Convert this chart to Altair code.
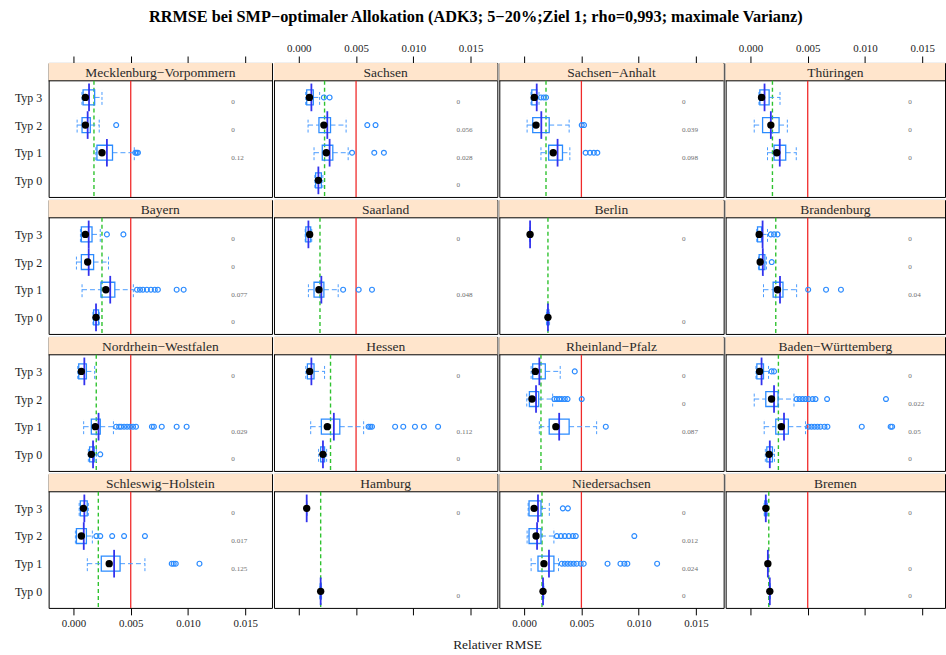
import altair as alt
import pandas as pd

TITLE = "RRMSE bei SMP\u2212optimaler Allokation (ADK3; 5\u221220%;Ziel 1; rho=0,993; maximale Varianz)"
X_TITLE = "Relativer RMSE"

STATES = [
    "Mecklenburg\u2212Vorpommern", "Sachsen", "Sachsen\u2212Anhalt", "Thüringen",
    "Bayern", "Saarland", "Berlin", "Brandenburg",
    "Nordrhein\u2212Westfalen", "Hessen", "Rheinland\u2212Pfalz", "Baden\u2212Württemberg",
    "Schleswig\u2212Holstein", "Hamburg", "Niedersachsen", "Bremen",
]
TYPES = ["Typ 0", "Typ 1", "Typ 2", "Typ 3"]
TICKS = [0.0, 0.005, 0.010, 0.015]

# per state: values for [Typ 0, Typ 1, Typ 2, Typ 3]; None = no data
WHISKER_LO = [
    [None, 0.00195, 0.00032, 0.00074], [0.00140, 0.00133, 0.00081, 0.00060],
    [None, 0.00147, 0.00026, 0.00060], [None, 0.00149, 0.00033, 0.00074],
    [0.00170, 0.00075, 0.00026, 0.00061], [None, 0.00084, None, 0.00056],
    [0.00195, None, None, 0.00052], [None, 0.00114, 0.00070, 0.00055],
    [0.00130, 0.00089, None, 0.00037], [0.00173, 0.00104, None, 0.00061],
    [None, 0.00133, 0.00023, 0.00061], [0.00130, 0.00120, 0.00033, 0.00048],
    [None, 0.00121, 0.00017, 0.00050], [0.00185, None, None, 0.00069],
    [0.00160, 0.00061, 0.00026, 0.00035], [0.00165, 0.00152, None, 0.00120],
]
Q1 = [
    [None, 0.00205, 0.00075, 0.00084], [0.00147, 0.00205, 0.00176, 0.00069],
    [None, 0.00214, 0.00075, 0.00067], [None, 0.00206, 0.00106, 0.00082],
    [0.00176, 0.00240, 0.00069, 0.00069], [None, 0.00133, None, 0.00061],
    [0.00200, None, None, 0.00052], [None, 0.00198, 0.00076, 0.00062],
    [0.00141, 0.00156, None, 0.00046], [0.00191, 0.00197, None, 0.00075],
    [None, 0.00219, 0.00046, 0.00075], [0.00143, 0.00221, 0.00134, 0.00056],
    [None, 0.00243, 0.00026, 0.00060], [0.00187, None, None, 0.00069],
    [0.00162, 0.00121, 0.00043, 0.00043], [0.00167, 0.00152, None, 0.00125],
]
MEDIAN = [
    [None, 0.00249, 0.00104, 0.00104], [0.00171, 0.00240, 0.00219, 0.00093],
    [None, 0.00254, 0.00104, 0.00089], [None, 0.00230, 0.00178, 0.00097],
    [0.00197, 0.00283, 0.00124, 0.00104], [None, 0.00176, None, 0.00095],
    [0.00208, None, None, 0.00052], [None, 0.00236, 0.00085, 0.00076],
    [0.00156, 0.00191, None, 0.00069], [0.00211, 0.00249, None, 0.00095],
    [None, 0.00277, 0.00069, 0.00098], [0.00163, 0.00270, 0.00184, 0.00080],
    [None, 0.00312, 0.00069, 0.00087], [0.00191, None, None, 0.00069],
    [0.00165, 0.00173, 0.00104, 0.00087], [0.00169, 0.00152, None, 0.00134],
]
Q3 = [
    [None, 0.00341, 0.00147, 0.00185], [0.00197, 0.00297, 0.00277, 0.00127],
    [None, 0.00335, 0.00219, 0.00110], [None, 0.00308, 0.00250, 0.00163],
    [0.00219, 0.00361, 0.00176, 0.00162], [None, 0.00219, None, 0.00104],
    [0.00216, None, None, 0.00052], [None, 0.00284, 0.00126, 0.00097],
    [0.00182, 0.00234, None, 0.00113], [0.00225, 0.00358, None, 0.00133],
    [None, 0.00393, 0.00127, 0.00185], [0.00192, 0.00331, 0.00241, 0.00114],
    [None, 0.00407, 0.00113, 0.00120], [0.00196, None, None, 0.00069],
    [0.00169, 0.00260, 0.00147, 0.00147], [0.00171, 0.00152, None, 0.00143],
]
WHISKER_HI = [
    [None, 0.00531, 0.00225, 0.00249], [0.00210, 0.00431, 0.00413, 0.00182],
    [None, 0.00399, 0.00393, 0.00130], [None, 0.00400, 0.00322, 0.00258],
    [0.00225, 0.00523, 0.00306, 0.00234], [None, 0.00344, None, 0.00113],
    [0.00222, None, None, 0.00052], [None, 0.00403, 0.00140, 0.00149],
    [0.00200, 0.00349, None, 0.00185], [0.00243, 0.00566, None, 0.00225],
    [None, 0.00633, 0.00249, 0.00315], [0.00210, 0.00481, 0.00380, 0.00158],
    [None, 0.00624, 0.00165, 0.00130], [0.00199, None, None, 0.00069],
    [0.00172, 0.00300, 0.00260, 0.00220], [0.00173, 0.00152, None, 0.00148],
]
MEAN = [
    [None, 0.00292, 0.00124, 0.00136], [0.00171, 0.00269, 0.00249, 0.00110],
    [None, 0.00292, 0.00150, 0.00110], [None, 0.00256, 0.00178, 0.00123],
    [0.00197, 0.00321, 0.00133, 0.00133], [None, 0.00197, None, 0.00084],
    [0.00208, None, None, 0.00052], [None, 0.00258, 0.00108, 0.00106],
    [0.00171, 0.00219, None, 0.00095], [0.00211, 0.00306, None, 0.00110],
    [None, 0.00306, 0.00104, 0.00133], [0.00169, 0.00293, 0.00206, 0.00097],
    [None, 0.00355, 0.00090, 0.00095], [0.00191, None, None, 0.00069],
    [0.00165, 0.00217, 0.00113, 0.00121], [0.00169, 0.00152, None, 0.00134],
]
OUTLIERS = [
    [[], [0.00540, 0.00552, 0.00563], [0.00373], []],
    [[], [0.00465, 0.00659, 0.00743], [0.00598, 0.00670], [0.00219, 0.00269]],
    [[], [0.00537, 0.00575, 0.00609, 0.00639], [0.00503, 0.00523], [0.00147, 0.00171, 0.00191]],
    [[], [], [], []],
    [[], [0.00555, 0.00581, 0.00607, 0.00641, 0.00676, 0.00710, 0.00737, 0.00901, 0.00962], [],
     [0.00292, 0.00436]],
    [[], [0.00387, 0.00523, 0.00639], [], []],
    [[], [], [], []],
    [[], [0.00504, 0.00660, 0.00790], [0.00186], [0.00178, 0.00206, 0.00236]],
    [[0.00234], [0.00373, 0.00399, 0.00416, 0.00442, 0.00468, 0.00494, 0.00520, 0.00546,
                 0.00685, 0.00702, 0.00771, 0.00901, 0.00988], [], []],
    [[], [0.00609, 0.00624, 0.00639, 0.00841, 0.00912, 0.01014, 0.01092, 0.01216], [], []],
    [[], [0.00713], [0.00264, 0.00286, 0.00308, 0.00329, 0.00355, 0.00379, 0.00503], [0.00442]],
    [[], [0.00507, 0.00533, 0.00559, 0.00585, 0.00611, 0.00646, 0.00672, 0.00972, 0.01224, 0.01237],
     [0.00403, 0.00429, 0.00455, 0.00481, 0.00507, 0.00542, 0.00568, 0.00669, 0.01183],
     [0.00184, 0.00206]],
    [[], [0.00858, 0.00875, 0.00893, 0.01100], [0.00200, 0.00234, 0.00338, 0.00442, 0.00624], []],
    [[], [], [], []],
    [[], [0.00329, 0.00355, 0.00381, 0.00407, 0.00433, 0.00459, 0.00494, 0.00520,
          0.00728, 0.00841, 0.00875, 0.00901, 0.01161],
     [0.00286, 0.00321, 0.00355, 0.00390, 0.00425, 0.00451, 0.00962], [0.00338, 0.00382]],
    [[], [], [], []],
]
SHARE = [
    [None, "0.12", "0", "0"], ["0", "0.028", "0.056", "0"],
    [None, "0.098", "0.039", "0"], [None, "0", "0", "0"],
    ["0", "0.077", "0", "0"], [None, "0.048", None, "0"],
    ["0", None, None, "0"], [None, "0.04", "0", "0"],
    ["0", "0.029", None, "0"], ["0", "0.112", None, "0"],
    [None, "0.087", "0", "0"], ["0", "0.05", "0.022", "0"],
    [None, "0.125", "0.017", "0"], ["0", None, None, "0"],
    ["0", "0.024", "0.012", "0"], ["0", "0", None, "0"],
]
# dashed reference per state and the 0.005 target line (None = not drawn)
GREEN = [0.00179, 0.00225, 0.00191, 0.00192, 0.00249, 0.00185, 0.00208, 0.00221,
         0.00199, 0.00277, 0.00147, 0.00244, 0.00217, 0.00191, 0.00156, 0.00160]
TARGET = [0.005, 0.005, 0.005, 0.005, 0.005, 0.005, None, 0.005,
          0.005, 0.005, 0.005, 0.005, 0.005, None, 0.005, 0.005]

# layout
WIDTHS = [225, 225, 226, 221]
BODY_H = 117
STRIP_H = 18
PANEL_H = BODY_H + STRIP_H
PX_PER_UNIT = 11540.0
X_LO = -25.0 / PX_PER_UNIT
Y_LO, Y_HI_BODY = 0.4, 4.6
Y_TOP = Y_HI_BODY + STRIP_H * (Y_HI_BODY - Y_LO) / BODY_H

FONT = "Liberation Serif"
BLUE = "#2b8bff"
WHISK = "#4c9cff"
MEAN_C = "#3232ee"
GREEN_C = "#2fc22f"
RED_C = "#f02a2a"
STRIP_C = "#ffe5cc"

box_rows, out_rows, lab_rows = [], [], []
for s, name in enumerate(STATES):
    for t in range(4):
        if Q1[s][t] is not None:
            box_rows.append(dict(state=name, typ=TYPES[t], yi=t + 1,
                                 wlo=WHISKER_LO[s][t], q1=Q1[s][t], med=MEDIAN[s][t],
                                 q3=Q3[s][t], whi=WHISKER_HI[s][t], mean=MEAN[s][t]))
        for v in OUTLIERS[s][t]:
            out_rows.append(dict(state=name, yi=t + 1, v=v))
        if SHARE[s][t] is not None:
            lab_rows.append(dict(state=name, yi=t + 1, txt=SHARE[s][t]))
boxes = pd.DataFrame(box_rows)
outs = pd.DataFrame(out_rows)
labels = pd.DataFrame(lab_rows)


def panel(i):
    r, c = divmod(i, 4)
    w = WIDTHS[c]
    name = STATES[i]
    xscale = alt.Scale(domain=[X_LO, X_LO + w / PX_PER_UNIT], nice=False, zero=False)
    yscale = alt.Scale(domain=[Y_LO, Y_TOP], nice=False, zero=False)

    if r == 0 or r == 3:
        show = (c in (1, 3)) if r == 0 else (c in (0, 2))
        xaxis = alt.Axis(orient="top" if r == 0 else "bottom", values=TICKS, format=".3f",
                         title=None, grid=False, domain=False, tickSize=7, tickColor="#000",
                         labelPadding=3, labelFontSize=11, labelFont=FONT, labelColor="#222",
                         labelOpacity=1 if show else 0, labelFlush=False)
    else:
        xaxis = None
    if c == 0:
        yaxis = alt.Axis(values=[1, 2, 3, 4], labelExpr="'Typ ' + (datum.value - 1)",
                         title=None, ticks=False, domain=False, grid=False,
                         labelFont=FONT, labelFontSize=12, labelColor="#222",
                         labelPadding=7, minExtent=43, maxExtent=43)
    else:
        yaxis = None

    def X(f):
        return alt.X(f, type="quantitative", scale=xscale, axis=xaxis)

    def Y(f):
        return alt.Y(f, type="quantitative", scale=yscale, axis=yaxis)

    bx = boxes[boxes.state == name]
    ox = outs[outs.state == name] if len(outs) else outs
    lb = labels[labels.state == name]
    ref = pd.DataFrame([dict(state=name, green=GREEN[i], target=TARGET[i])])

    base_box = alt.Chart(bx).transform_calculate(
        ylo="datum.yi - 0.27", yhi="datum.yi + 0.27",
        mlo="datum.yi - 0.5", mhi="datum.yi + 0.5")

    layers = [
        alt.Chart(ref).mark_rect(fill=STRIP_C).encode(
            x=alt.value(0), x2=alt.value(w), y=alt.value(0), y2=alt.value(STRIP_H)),
        alt.Chart(ref).mark_text(font=FONT, fontSize=13.6, color="#2a2a2a", baseline="middle").encode(
            x=alt.value(w / 2), y=alt.value(STRIP_H / 2 + 1), text="state:N"),
        alt.Chart(ref).mark_rule(color="#000", strokeWidth=1).encode(
            x=alt.value(0), x2=alt.value(w), y=alt.value(STRIP_H)),
    ]
    if TARGET[i] is not None:
        layers.append(alt.Chart(ref).mark_rule(color=RED_C, strokeWidth=1.3).encode(
            x=X("target"), y=alt.value(STRIP_H), y2=alt.value(PANEL_H)))
    layers += [
        alt.Chart(ref).mark_rule(color=GREEN_C, strokeWidth=1.4, strokeDash=[4, 3]).encode(
            x=X("green"), y=alt.value(STRIP_H), y2=alt.value(PANEL_H)),
        # whiskers
        base_box.mark_rule(color=WHISK, strokeWidth=1, strokeDash=[5, 3]).encode(
            x=X("wlo"), x2="q1:Q", y=Y("yi")),
        base_box.mark_rule(color=WHISK, strokeWidth=1, strokeDash=[5, 3]).encode(
            x=X("q3"), x2="whi:Q", y=Y("yi")),
        base_box.mark_rule(color=WHISK, strokeWidth=1, strokeDash=[3, 2]).encode(
            x=X("wlo"), y=Y("ylo"), y2="yhi:Q"),
        base_box.mark_rule(color=WHISK, strokeWidth=1, strokeDash=[3, 2]).encode(
            x=X("whi"), y=Y("ylo"), y2="yhi:Q"),
        # box
        base_box.mark_rect(fillOpacity=0, stroke=BLUE, strokeWidth=1.3).encode(
            x=X("q1"), x2="q3:Q", y=Y("ylo"), y2="yhi:Q"),
        # mean
        base_box.mark_rule(color=MEAN_C, strokeWidth=1.8).encode(
            x=X("mean"), y=Y("mlo"), y2="mhi:Q"),
        # median
        base_box.mark_point(filled=True, color="#000", size=55, opacity=1).encode(
            x=X("med"), y=Y("yi")),
    ]
    if len(ox):
        layers.append(alt.Chart(ox).mark_point(shape="circle", filled=False, color=BLUE,
                                               size=24, strokeWidth=1.2, opacity=1).encode(
            x=X("v"), y=Y("yi")))
    if len(lb):
        layers.append(alt.Chart(lb).mark_text(align="left", baseline="middle", dy=5,
                                              font=FONT, fontSize=7.2, color="#707070").encode(
            x=alt.value(184), y=Y("yi"), text="txt:N"))
    return alt.layer(*layers).properties(width=w, height=PANEL_H)


rows = [alt.hconcat(*[panel(r * 4 + c) for c in range(4)], spacing=0) for r in range(4)]
grid = alt.vconcat(*rows, spacing=0,
                   title=alt.Title(X_TITLE, orient="bottom", anchor="middle", font=FONT,
                                   fontSize=13.5, fontWeight="normal", color="#222", offset=9, dx=22))

chart = alt.vconcat(grid, spacing=0,
                    title=alt.Title(TITLE, anchor="middle", font=FONT, fontSize=16.4,
                                    fontWeight="bold", color="#000", offset=16)).properties(
    padding={"left": 5, "top": 7, "right": 0, "bottom": 0},
    background="white",
).configure_view(stroke="#000", strokeWidth=1)

chart.save("out.html", embed_options={"renderer": "svg", "actions": False})
